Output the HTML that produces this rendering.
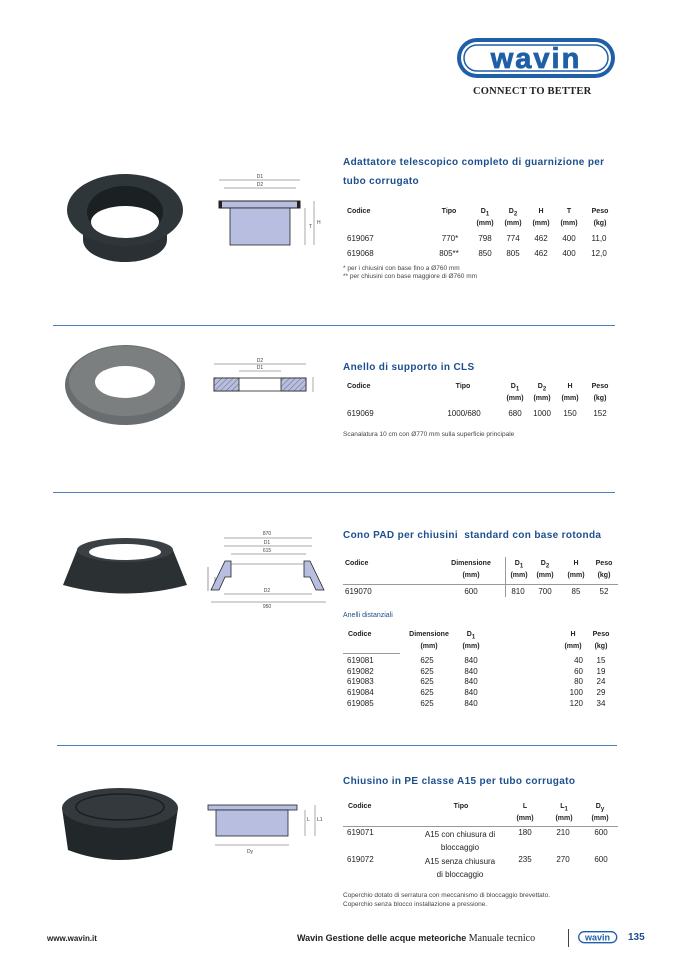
<!DOCTYPE html>
<html><head><meta charset="utf-8">
<style>
html,body{margin:0;padding:0;background:#fff;}
body{width:678px;height:959px;position:relative;overflow:hidden;font-family:"Liberation Sans",sans-serif;color:#222;}
.t{position:absolute;white-space:nowrap;font-size:8px;line-height:10px;}
.c{transform:translateX(-50%);text-align:center;}
.h{font-weight:bold;font-size:7px;}
.ti{position:absolute;white-space:nowrap;font-weight:bold;font-size:10px;color:#1d4f8e;letter-spacing:0.35px;}
.hr{position:absolute;height:1px;background:#4a7fb8;}
.ln{position:absolute;height:1px;background:#999;}
.n{font-size:6.5px;color:#444;}
</style></head><body>

<svg style="position:absolute;left:455px;top:36px" width="164" height="46">
<rect x="2" y="2" width="158" height="40" rx="20" fill="#1f5fa8"/>
<rect x="6" y="6" width="150" height="32" rx="16" fill="#fff"/>
<rect x="9" y="9" width="144" height="26" rx="13" fill="none" stroke="#1f5fa8" stroke-width="1.5"/>
<text x="81" y="32" text-anchor="middle" font-family="Liberation Sans" font-weight="bold" font-size="29" fill="#1f5fa8" letter-spacing="2" stroke="#1f5fa8" stroke-width="0.8">wavin</text>
</svg>
<div class="t" style="left:473px;top:87px;font-size:10.5px;font-weight:bold;font-family:'Liberation Serif',serif;letter-spacing:0.2px">CONNECT TO BETTER</div>

<svg style="position:absolute;left:60px;top:170px" width="130" height="100">
<ellipse cx="65" cy="70" rx="42" ry="22" fill="#2a3034"/>
<rect x="23" y="40" width="84" height="30" fill="#2a3034"/>
<ellipse cx="65" cy="40" rx="58" ry="36" fill="#2f3639"/>
<ellipse cx="65" cy="42" rx="38" ry="26" fill="#1b2022"/>
<ellipse cx="65" cy="52" rx="34" ry="16" fill="#fff"/>
</svg>
<svg style="position:absolute;left:210px;top:170px" width="120" height="90">
<line x1="9" y1="10" x2="90" y2="10" stroke="#555" stroke-width="0.6"/>
<line x1="14" y1="18" x2="86" y2="18" stroke="#555" stroke-width="0.6"/>
<text x="50" y="8" font-size="5" text-anchor="middle" fill="#444">D1</text>
<text x="50" y="16" font-size="5" text-anchor="middle" fill="#444">D2</text>
<rect x="9" y="31" width="81" height="7" fill="#b7bee0" stroke="#222" stroke-width="1"/>
<rect x="9" y="31" width="3" height="7" fill="#222"/><rect x="87" y="31" width="3" height="7" fill="#222"/>
<rect x="20" y="38" width="60" height="37" fill="#b7bee0" stroke="#222" stroke-width="0.8"/>
<line x1="95" y1="38" x2="95" y2="75" stroke="#555" stroke-width="0.5"/>
<line x1="104" y1="31" x2="104" y2="75" stroke="#555" stroke-width="0.5"/>
<text x="99" y="58" font-size="5" fill="#444">T</text><text x="107" y="54" font-size="5" fill="#444">H</text>
</svg>
<div class="ti" style="left:343px;top:157px">Adattatore telescopico completo di guarnizione per</div>
<div class="ti" style="left:343px;top:176px">tubo corrugato</div>
<div class="t h" style="left:347px;top:207px">Codice</div>
<div class="t h c" style="left:449px;top:207px">Tipo</div>
<div class="t h c" style="left:485px;top:207px">D<sub style="font-size:6px">1</sub><br>(mm)</div>
<div class="t h c" style="left:513px;top:207px">D<sub style="font-size:6px">2</sub><br>(mm)</div>
<div class="t h c" style="left:541px;top:207px">H<br><span style="line-height:14px">(mm)</span></div>
<div class="t h c" style="left:569px;top:207px">T<br><span style="line-height:14px">(mm)</span></div>
<div class="t h c" style="left:600px;top:207px">Peso<br><span style="line-height:14px">(kg)</span></div>
<div class="t" style="left:347px;top:234px">619067</div><div class="t c" style="left:450px;top:234px">770*</div>
<div class="t c" style="left:485px;top:234px">798</div><div class="t c" style="left:513px;top:234px">774</div><div class="t c" style="left:541px;top:234px">462</div><div class="t c" style="left:569px;top:234px">400</div><div class="t c" style="left:599px;top:234px">11,0</div>
<div class="t" style="left:347px;top:249px">619068</div><div class="t c" style="left:449px;top:249px">805**</div>
<div class="t c" style="left:485px;top:249px">850</div><div class="t c" style="left:513px;top:249px">805</div><div class="t c" style="left:541px;top:249px">462</div><div class="t c" style="left:569px;top:249px">400</div><div class="t c" style="left:599px;top:249px">12,0</div>
<div class="t n" style="left:343px;top:264px">* per i chiusini con base fino a Ø760 mm</div>
<div class="t n" style="left:343px;top:272px">** per chiusini con base maggiore di Ø760 mm</div>

<div class="hr" style="left:53px;top:325px;width:562px"></div>

<svg style="position:absolute;left:60px;top:340px" width="130" height="90">
<ellipse cx="65" cy="45" rx="60" ry="40" fill="#6a6d6f"/>
<ellipse cx="65" cy="41" rx="56" ry="35" fill="#7c7f80"/>
<ellipse cx="65" cy="42" rx="30" ry="16" fill="#fff"/>
</svg>
<svg style="position:absolute;left:205px;top:355px" width="115" height="45">
<defs><pattern id="hp" width="4" height="4" patternUnits="userSpaceOnUse" patternTransform="rotate(45)"><rect width="4" height="4" fill="#b7bee0"/><line x1="0" y1="0" x2="0" y2="4" stroke="#555" stroke-width="0.8"/></pattern></defs>
<line x1="9" y1="9" x2="101" y2="9" stroke="#555" stroke-width="0.6"/>
<line x1="34" y1="16" x2="76" y2="16" stroke="#555" stroke-width="0.6"/>
<text x="55" y="7" font-size="5" text-anchor="middle" fill="#444">D2</text>
<text x="55" y="14" font-size="5" text-anchor="middle" fill="#444">D1</text>
<rect x="9" y="23" width="92" height="13" fill="#fff" stroke="#222" stroke-width="0.8"/>
<rect x="9" y="23" width="25" height="13" fill="url(#hp)" stroke="#222" stroke-width="0.8"/>
<rect x="76" y="23" width="25" height="13" fill="url(#hp)" stroke="#222" stroke-width="0.8"/>
<line x1="108" y1="22" x2="108" y2="37" stroke="#555" stroke-width="0.5"/>
</svg>
<div class="ti" style="left:343px;top:362px">Anello di supporto in CLS</div>
<div class="t h" style="left:347px;top:382px">Codice</div>
<div class="t h c" style="left:463px;top:382px">Tipo</div>
<div class="t h c" style="left:515px;top:382px">D<sub style="font-size:6px">1</sub><br>(mm)</div>
<div class="t h c" style="left:542px;top:382px">D<sub style="font-size:6px">2</sub><br>(mm)</div>
<div class="t h c" style="left:570px;top:382px">H<br><span style="line-height:14px">(mm)</span></div>
<div class="t h c" style="left:600px;top:382px">Peso<br><span style="line-height:14px">(kg)</span></div>
<div class="t" style="left:347px;top:409px">619069</div><div class="t c" style="left:464px;top:409px">1000/680</div>
<div class="t c" style="left:515px;top:409px">680</div><div class="t c" style="left:542px;top:409px">1000</div><div class="t c" style="left:570px;top:409px">150</div><div class="t c" style="left:600px;top:409px">152</div>
<div class="t n" style="left:343px;top:430px">Scanalatura 10 cm con Ø770 mm sulla superficie principale</div>

<div class="hr" style="left:53px;top:492px;width:562px"></div>

<svg style="position:absolute;left:55px;top:530px" width="140" height="80">
<path d="M8 55 L22 20 L118 20 L132 55 Q70 72 8 55Z" fill="#2b3133"/>
<ellipse cx="70" cy="20" rx="48" ry="12" fill="#3a4043"/>
<ellipse cx="70" cy="22" rx="36" ry="8" fill="#fff"/>
</svg>
<svg style="position:absolute;left:200px;top:525px" width="135" height="85">
<g stroke="#555" stroke-width="0.6"><line x1="24" y1="13" x2="112" y2="13"/><line x1="24" y1="21" x2="112" y2="21"/><line x1="31" y1="29" x2="106" y2="29"/><line x1="24" y1="69" x2="112" y2="69"/><line x1="11" y1="77" x2="126" y2="77"/><line x1="8" y1="42" x2="8" y2="66"/><line x1="15" y1="52" x2="15" y2="65"/></g>
<g font-size="5" fill="#444" text-anchor="middle"><text x="67" y="10">870</text><text x="67" y="19">D1</text><text x="67" y="27">615</text><text x="67" y="67">D2</text><text x="67" y="83">950</text></g>
<path d="M11 65 L25 36 L31 36 L31 52 L25 52 L19 65Z" fill="#b7bee0" stroke="#222" stroke-width="0.8"/>
<path d="M124 65 L110 36 L104 36 L104 52 L110 52 L116 65Z" fill="#b7bee0" stroke="#222" stroke-width="0.8"/>
<line x1="31" y1="39" x2="104" y2="39" stroke="#555" stroke-width="0.5"/>
</svg>
<div class="ti" style="left:343px;top:530px">Cono PAD per chiusini&nbsp; standard con base rotonda</div>
<div class="t h" style="left:345px;top:559px">Codice</div>
<div class="t h c" style="left:471px;top:559px">Dimensione<br><span style="line-height:14px">(mm)</span></div>
<div style="position:absolute;left:505px;top:557px;width:1px;height:40px;background:#999"></div>
<div class="t h c" style="left:519px;top:559px">D<sub style="font-size:6px">1</sub><br>(mm)</div>
<div class="t h c" style="left:545px;top:559px">D<sub style="font-size:6px">2</sub><br>(mm)</div>
<div class="t h c" style="left:576px;top:559px">H<br><span style="line-height:14px">(mm)</span></div>
<div class="t h c" style="left:604px;top:559px">Peso<br><span style="line-height:14px">(kg)</span></div>
<div class="ln" style="left:343px;top:584px;width:275px"></div>
<div class="t" style="left:345px;top:587px">619070</div><div class="t c" style="left:471px;top:587px">600</div>
<div class="t c" style="left:518px;top:587px">810</div><div class="t c" style="left:545px;top:587px">700</div><div class="t c" style="left:576px;top:587px">85</div><div class="t c" style="left:604px;top:587px">52</div>
<div class="t" style="left:343px;top:611px;font-size:7px;color:#1d4f8e">Anelli distanziali</div>
<div class="t h" style="left:348px;top:630px">Codice</div>
<div class="t h c" style="left:429px;top:630px">Dimensione<br><span style="line-height:14px">(mm)</span></div>
<div class="t h c" style="left:471px;top:630px">D<sub style="font-size:6px">1</sub><br>(mm)</div>
<div class="t h c" style="left:573px;top:630px">H<br><span style="line-height:14px">(mm)</span></div>
<div class="t h c" style="left:601px;top:630px">Peso<br><span style="line-height:14px">(kg)</span></div>
<div class="ln" style="left:343px;top:653px;width:57px"></div>
<div class="t" style="left:347px;top:656px;line-height:10.7px">619081<br>619082<br>619083<br>619084<br>619085</div>
<div class="t c" style="left:427px;top:656px;line-height:10.7px">625<br>625<br>625<br>625<br>625</div>
<div class="t c" style="left:471px;top:656px;line-height:10.7px">840<br>840<br>840<br>840<br>840</div>
<div class="t" style="left:564px;top:656px;line-height:10.7px;text-align:right;width:19px">40<br>60<br>80<br>100<br>120</div>
<div class="t c" style="left:601px;top:656px;line-height:10.7px">15<br>19<br>24<br>29<br>34</div>

<div class="hr" style="left:57px;top:745px;width:560px"></div>

<svg style="position:absolute;left:50px;top:780px" width="140" height="90">
<path d="M12 28 L18 70 Q70 90 122 70 L128 28Z" fill="#22282a"/>
<ellipse cx="70" cy="28" rx="58" ry="20" fill="#33393c"/>
<ellipse cx="70" cy="27" rx="44" ry="13" fill="none" stroke="#1a1f21" stroke-width="1.5"/>
</svg>
<svg style="position:absolute;left:200px;top:795px" width="125" height="60">
<rect x="8" y="10" width="89" height="5" fill="#b7bee0" stroke="#222" stroke-width="0.8"/>
<rect x="16" y="15" width="72" height="26" fill="#b7bee0" stroke="#222" stroke-width="0.8"/>
<g stroke="#555" stroke-width="0.5"><line x1="15" y1="50" x2="89" y2="50"/><line x1="105" y1="15" x2="105" y2="41"/><line x1="115" y1="10" x2="115" y2="41"/></g>
<g font-size="5" fill="#444"><text x="50" y="58" text-anchor="middle">Dy</text><text x="107" y="26">L</text><text x="117" y="26">L1</text></g>
</svg>
<div class="ti" style="left:343px;top:776px">Chiusino in PE classe A15 per tubo corrugato</div>
<div class="t h" style="left:348px;top:802px">Codice</div>
<div class="t h c" style="left:461px;top:802px">Tipo</div>
<div class="t h c" style="left:525px;top:802px">L<br><span style="line-height:14px">(mm)</span></div>
<div class="t h c" style="left:564px;top:802px">L<sub style="font-size:6px">1</sub><br>(mm)</div>
<div class="t h c" style="left:600px;top:802px">D<sub style="font-size:6px">y</sub><br>(mm)</div>
<div class="ln" style="left:343px;top:826px;width:275px"></div>
<div class="t" style="left:347px;top:828px">619071</div>
<div class="t c" style="left:460px;top:828px;line-height:13px">A15 con chiusura di<br>bloccaggio</div>
<div class="t c" style="left:525px;top:828px">180</div><div class="t c" style="left:563px;top:828px">210</div><div class="t c" style="left:601px;top:828px">600</div>
<div class="t" style="left:347px;top:855px">619072</div>
<div class="t c" style="left:460px;top:855px;line-height:13px">A15 senza chiusura<br>di bloccaggio</div>
<div class="t c" style="left:525px;top:855px">235</div><div class="t c" style="left:563px;top:855px">270</div><div class="t c" style="left:601px;top:855px">600</div>
<div class="t n" style="left:343px;top:891px">Coperchio dotato di serratura con meccanismo di bloccaggio brevettato.</div>
<div class="t n" style="left:343px;top:900px">Coperchio senza blocco installazione a pressione.</div>

<div class="t" style="left:47px;top:934px;font-weight:bold;font-size:8px">www.wavin.it</div>
<div class="t" style="left:297px;top:933px;font-size:9px"><b>Wavin Gestione delle acque meteoriche</b> <span style="font-family:'Liberation Serif',serif;font-size:10px">Manuale tecnico</span></div>
<div style="position:absolute;left:568px;top:929px;width:1px;height:18px;background:#444"></div>
<svg style="position:absolute;left:578px;top:931px" width="40" height="13">
<rect x="0.7" y="0.7" width="38" height="11" rx="5.5" fill="#fff" stroke="#1f5fa8" stroke-width="1.3"/>
<text x="19.5" y="9.5" text-anchor="middle" font-family="Liberation Sans" font-weight="bold" font-size="9" fill="#1f5fa8">wavin</text>
</svg>
<div class="t" style="left:628px;top:933px;font-weight:bold;font-size:10px;color:#1d4f8e">135</div>
</body></html>
